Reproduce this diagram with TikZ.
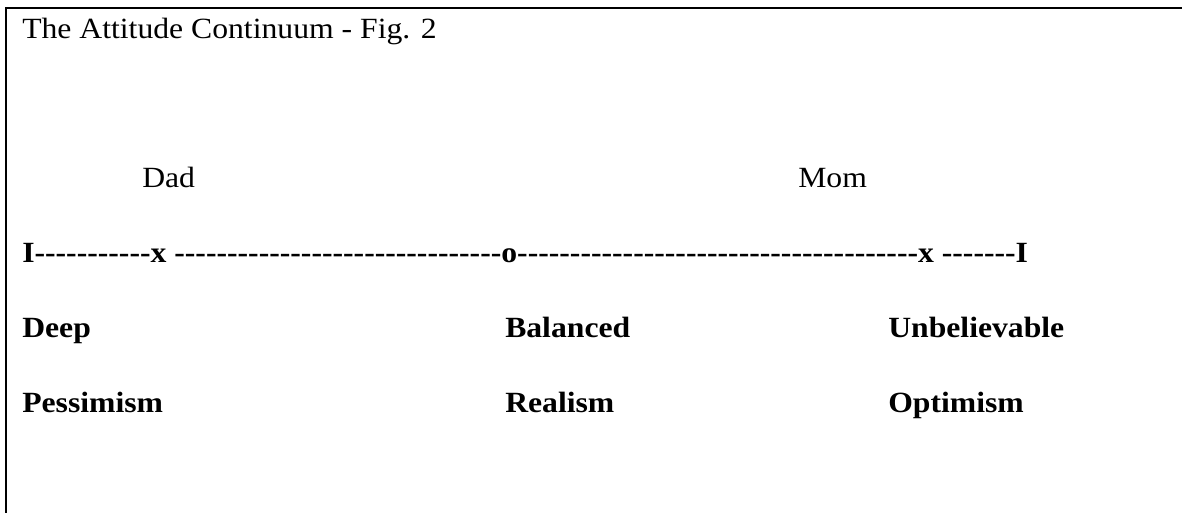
\documentclass[tikz,border=0pt]{standalone}
\usepackage{fontspec}
\setmainfont{Liberation Serif}[FakeStretch=1.08,Ligatures=TeXOff]
\begin{document}
\begin{tikzpicture}[x=0.75pt,y=-0.75pt,
  txt/.style={anchor=base west,inner sep=0pt,font=\fontsize{22pt}{26pt}\selectfont},
  lbl/.style={anchor=base west,inner sep=0pt,font=\fontsize{22pt}{26pt}\selectfont\bfseries},
  frame/.style={line width=1.5pt,line cap=rect}]
\useasboundingbox (0,0) rectangle (1182,512);
\draw[frame] (1182,7.5) -- (5.5,7.5) -- (5.5,512);
\node[txt] (title) at (22,38) {The Attitude Continuum - Fig. 2};
\node[txt] (dad) at (142,187) {Dad};
\node[txt] (mom) at (798,187) {Mom};
\node[lbl] (scale) at (22,262) {I-----------x -------------------------------o--------------------------------------x -------I};
\node[lbl] (deep) at (22,337) {Deep};
\node[lbl] (bal) at (505,337) {Balanced};
\node[lbl] (unb) at (888,337) {Unbelievable};
\node[lbl] (pes) at (22,412) {Pessimism};
\node[lbl] (real) at (505,412) {Realism};
\node[lbl] (opt) at (888,412) {Optimism};
\end{tikzpicture}
\end{document}
